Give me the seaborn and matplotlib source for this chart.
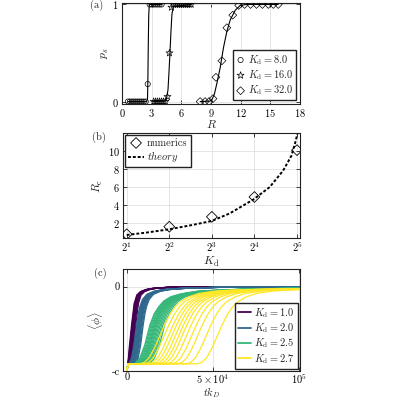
import numpy as np
import pandas as pd
import matplotlib
matplotlib.use('Agg')
import matplotlib.pyplot as plt
import seaborn as sns

# ---- panel (a): switching probability p_s against R ----
r_k8 = [0.6, 0.8, 1.0, 1.2, 1.4, 1.6, 1.8, 2.0, 2.2, 2.4, 2.6,
        2.8, 3.0, 3.2, 3.4, 3.6, 3.8, 4.0]
p_k8 = [0, 0, 0, 0, 0, 0, 0, 0, 0, 0, 0.18,
        1, 1, 1, 1, 1, 1, 1]
r_k16 = [3.2, 3.4, 3.6, 3.8, 4.0, 4.2, 4.4, 4.6, 4.8, 5.0,
         5.2, 5.4, 5.6, 5.8, 6.0, 6.2, 6.4, 6.6, 6.8, 7.0]
p_k16 = [0, 0, 0, 0, 0, 0, 0, 0.05, 0.5, 0.97,
         1, 1, 1, 1, 1, 1, 1, 1, 1, 1]
r_k32 = [7.9, 8.4, 8.8, 9.2, 9.5, 10.1, 10.6, 11.2, 11.8, 12.4,
         13.0, 13.6, 14.2, 14.8, 15.3, 15.8]
p_k32 = [0, 0, 0, 0.03, 0.25, 0.42, 0.76, 0.89, 0.99, 1,
         1, 1, 1, 1, 1, 1]

# fitted curves
fit_r_k8 = [0.6, 2.5, 2.58, 2.62, 2.66, 2.7, 2.76, 4.0]
fit_p_k8 = [0, 0, 0.03, 0.25, 0.6, 0.88, 1.0, 1.0]
fit_r_k16 = [3.2, 4.3, 4.5, 4.65, 4.75, 4.85, 4.95, 5.05, 5.2, 7.0]
fit_p_k16 = [0, 0.005, 0.03, 0.12, 0.3, 0.5, 0.72, 0.9, 0.98, 1.0]
fit_r_k32 = [7.9, 8.9, 9.1, 9.35, 9.6, 9.93, 10.27, 10.6, 10.94, 11.45, 11.95, 12.6, 15.8]
fit_p_k32 = [0, 0.005, 0.02, 0.08, 0.19, 0.35, 0.56, 0.72, 0.84, 0.94, 0.99, 1.0, 1.0]

# ---- panel (b): critical radius R_c against K_d ----
kd_num = [2, 4, 8, 16, 32]
rc_num = [0.72, 1.56, 2.66, 4.87, 10.09]
kd_theory = [2.0, 2.75, 4.0, 5.82, 8.0, 10.7, 15.7, 20.5, 25.5, 29.2, 31.3, 32.7]
rc_theory = [0.64, 0.9, 1.27, 1.75, 2.2, 3.04, 4.58, 5.97, 7.8, 9.46, 11.1, 12.4]

# ---- panel (c): <phi> time series ----
kd_labels = ['$K_\\mathrm{d} = 1.0$', '$K_\\mathrm{d} = 2.0$',
             '$K_\\mathrm{d} = 2.5$', '$K_\\mathrm{d} = 2.7$']
mids_k1 = [2700, 3000, 3200, 3400, 3600, 3800, 4000, 4300, 4700, 5200]
mids_k2 = [5600, 6000, 6300, 6600, 6900, 7200, 7500, 7800, 8100, 8500, 9000, 9500]
mids_k25 = [13400, 14000, 14600, 15200, 15800, 16300, 16800, 17400, 18000,
            18700, 19400, 20200, 21000, 22000]
mids_k27 = [22000, 24500, 27000, 29000, 31000, 33000, 35000, 37500, 40500,
            44000, 49000, 55500]

# curve shapes around each transition midpoint
dt_k1 = [-3000, -1500, 0, 1500, 3000, 5000, 8000, 12000, 20000, 40000, 100000]
v_k1 = [-0.915, -0.75, -0.45, -0.2, -0.1, -0.06, -0.035, -0.02, -0.008, 0.0, 0.0]
dt_k2 = [-4500, -3000, -1500, 0, 1000, 2000, 3500, 6000, 10000, 15000, 25000, 45000, 100000]
v_k2 = [-0.915, -0.85, -0.69, -0.45, -0.32, -0.23, -0.15, -0.09, -0.055, -0.035, -0.02, -0.008, 0.0]
dt_k25 = [-9000, -6000, -3000, 0, 2500, 5000, 8000, 12000, 18000, 27000, 40000, 60000, 100000]
v_k25 = [-0.915, -0.85, -0.69, -0.45, -0.32, -0.24, -0.17, -0.12, -0.085, -0.055, -0.04, -0.025, -0.015]
dt_k27 = [-15000, -12000, -9000, -6000, -3000, 0, 3000, 6000, 9000, 14000, 20000,
          30000, 45000, 70000, 100000]
v_k27 = [-0.915, -0.9, -0.84, -0.73, -0.59, -0.45, -0.33, -0.24, -0.18, -0.12, -0.08,
         -0.05, -0.035, -0.025, -0.02]
phi_start = -1.0
phi_plateau = -0.915

sns.set_theme(style='whitegrid')
plt.rcParams.update({
    'font.family': 'serif',
    'font.serif': ['cmr10'],
    'mathtext.fontset': 'cm',
    'axes.formatter.use_mathtext': True,
    'axes.unicode_minus': False,
    'font.size': 7.5,
    'axes.labelsize': 8.5,
    'xtick.labelsize': 7.5,
    'ytick.labelsize': 7.5,
    'legend.fontsize': 7.5,
    'axes.edgecolor': '#222222',
    'axes.linewidth': 0.8,
    'grid.color': '#e0e0e0',
    'grid.linewidth': 0.6,
    'xtick.direction': 'in',
    'ytick.direction': 'in',
    'xtick.bottom': True, 'xtick.top': True,
    'ytick.left': True, 'ytick.right': True,
    'xtick.major.size': 3, 'ytick.major.size': 3,
    'xtick.major.width': 0.6, 'ytick.major.width': 0.6,
    'xtick.color': '#222222', 'ytick.color': '#222222',
    'xtick.labelcolor': 'black', 'ytick.labelcolor': 'black',
    'xtick.major.pad': 2.0, 'ytick.major.pad': 2.5,
    'legend.frameon': True,
    'legend.fancybox': False,
    'legend.edgecolor': '#222222',
    'legend.framealpha': 1.0,
})
plt.rcParams['axes.axisbelow'] = True

fig = plt.figure(figsize=(4, 4), dpi=100)
ax_a = fig.add_axes([0.305, 0.74, 0.445, 0.2525])
ax_b = fig.add_axes([0.3075, 0.405, 0.4425, 0.2625])
ax_c = fig.add_axes([0.3075, 0.0725, 0.4425, 0.255])

# ---------------- (a) ----------------
for fr, fp in [(fit_r_k8, fit_p_k8), (fit_r_k16, fit_p_k16), (fit_r_k32, fit_p_k32)]:
    sns.lineplot(x=fr, y=fp, ax=ax_a, color='black', lw=0.8, sort=False)
sns.scatterplot(x=r_k8, y=p_k8, ax=ax_a, marker='o', s=14, facecolor='none',
                edgecolor='black', linewidth=0.5, label='$K_\\mathrm{d} = 8.0$', zorder=3)
sns.scatterplot(x=r_k16, y=p_k16, ax=ax_a, marker='*', s=28, facecolor='none',
                edgecolor='black', linewidth=0.5, label='$K_\\mathrm{d} = 16.0$', zorder=3)
sns.scatterplot(x=r_k32, y=p_k32, ax=ax_a, marker='D', s=16, facecolor='none',
                edgecolor='black', linewidth=0.5, label='$K_\\mathrm{d} = 32.0$', zorder=3)
ax_a.set_xlim(0, 18)
ax_a.set_ylim(-0.025, 1.015)
ax_a.set_xticks([0, 3, 6, 9, 12, 15, 18])
ax_a.set_yticks([0, 1])
ax_a.set_xlabel('$R$')
ax_a.set_ylabel('$p_s$')
ax_a.xaxis.set_label_coords(0.5, -0.135)
ax_a.yaxis.set_label_coords(-0.062, 0.5)
ax_a.legend(loc='lower right', handlelength=0.8, handletextpad=0.3, labelspacing=0.15,
            borderpad=0.3, borderaxespad=0.35)

# ---------------- (b) ----------------
sns.lineplot(x=kd_theory, y=rc_theory, ax=ax_b, color='black', lw=1.4,
             linestyle=(0, (1.5, 1)), label='$\\mathit{theory}$', zorder=2)
sns.scatterplot(x=kd_num, y=rc_num, ax=ax_b, marker='D', s=30, facecolor='none',
                edgecolor='black', linewidth=0.6, label='numerics', zorder=3)
ax_b.set_xscale('log', base=2)
ax_b.set_xlim(2 ** 0.913, 2 ** 5.07)
ax_b.set_ylim(0.3, 12.0)
ax_b.set_xticks(kd_num)
ax_b.set_xticklabels(['$2^{%d}$' % i for i in range(1, 6)])
ax_b.minorticks_off()
ax_b.set_yticks([2, 4, 6, 8, 10])
ax_b.tick_params(axis='x', pad=1.5)
ax_b.set_xlabel('$K_\\mathrm{d}$')
ax_b.set_ylabel('$R_\\mathrm{c}$')
ax_b.xaxis.set_label_coords(0.5, -0.165)
ax_b.yaxis.set_label_coords(-0.10, 0.5)
h, l = ax_b.get_legend_handles_labels()
ax_b.legend(h[::-1], l[::-1], loc='upper left', handlelength=1.5, handletextpad=0.3,
            labelspacing=0.15, borderpad=0.3, borderaxespad=0.2)

# ---------------- (c) ----------------
rows = []
run = 0
for lab, mids, dts, vals in [(kd_labels[0], mids_k1, dt_k1, v_k1),
                             (kd_labels[1], mids_k2, dt_k2, v_k2),
                             (kd_labels[2], mids_k25, dt_k25, v_k25),
                             (kd_labels[3], mids_k27, dt_k27, v_k27)]:
    for m in mids:
        ts = [0.0, 600.0] + [m + d for d in dts if m + d > 600]
        vs = [phi_start, phi_plateau] + [v for d, v in zip(dts, vals) if m + d > 600]
        for t, v in zip(ts, vs):
            rows.append({'t': t, 'phi': v, 'Kd': lab, 'run': run})
        run += 1
df_c = pd.DataFrame(rows)

vir = sns.color_palette('viridis', as_cmap=True)
pal = {lab: vir(f) for lab, f in zip(kd_labels, [0.0, 1 / 3, 2 / 3, 1.0])}
sns.lineplot(data=df_c, x='t', y='phi', hue='Kd', hue_order=kd_labels, units='run',
             estimator=None, palette=pal, lw=0.9, ax=ax_c)
ax_c.set_xlim(-2300, 100800)
ax_c.set_ylim(-1.0, 0.21)
ax_c.set_xticks([0, 5e4, 1e5])
ax_c.set_xticklabels(['0', '$5\\times10^{4}$', '$10^{5}$'])
ax_c.set_yticks([-1.0, 0.0])
ax_c.set_yticklabels(['-c', '0'])
ax_c.tick_params(axis='x', pad=1.0)
ax_c.set_xlabel('$tk_D$', fontsize=7.5)
ax_c.set_ylabel('$\\langle\\phi\\rangle$')
ax_c.xaxis.set_label_coords(0.5, -0.14)
ax_c.yaxis.set_label_coords(-0.10, 0.5)
h, l = ax_c.get_legend_handles_labels()
for hh in h:
    hh.set_linewidth(1.3)
ax_c.legend(h, l, loc='lower right', handlelength=1.3, handletextpad=0.3,
            labelspacing=0.15, borderpad=0.3, borderaxespad=0.2)

fig.text(0.2425, 0.9875, '(a)', ha='center', va='center', fontsize=7.5)
fig.text(0.2475, 0.6575, '(b)', ha='center', va='center', fontsize=7.5)
fig.text(0.25, 0.3175, '(c)', ha='center', va='center', fontsize=7.5)

fig.savefig('out.png', dpi=100)
